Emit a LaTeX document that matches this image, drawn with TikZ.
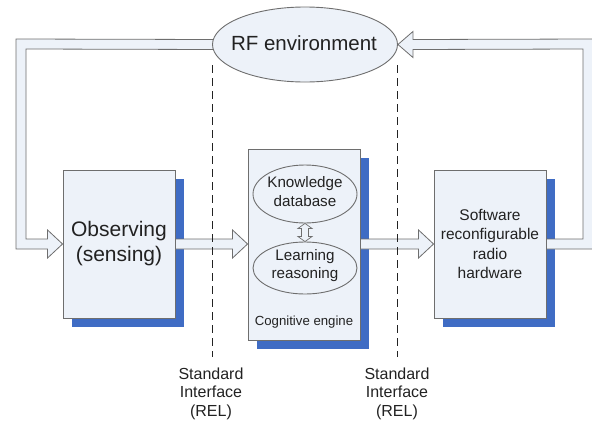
\documentclass[tikz,border=0pt]{standalone}
\usepackage{fontspec}
\setmainfont{Liberation Sans}
\usetikzlibrary{calc,backgrounds,shapes.geometric}
\definecolor{boxfill}{HTML}{EDF2F9}
\definecolor{shadowblue}{HTML}{3F6CC4}
\definecolor{edge}{HTML}{6E6E6E}
\definecolor{ink}{HTML}{222222}

\begin{document}
\begin{tikzpicture}[x=1pt,y=-1pt,
  block/.style={draw=edge, line width=0.9pt, fill=boxfill, minimum width=112pt,
    inner sep=0pt, text=ink, align=center},
  oval/.style={ellipse, draw=edge, line width=0.9pt, fill=boxfill, inner sep=0pt},
  label/.style={text=ink, align=center, inner sep=0pt},
  hollow/.style={draw=edge, line width=0.8pt, fill=boxfill, line join=miter},
  guide/.style={draw=ink, line width=0.8pt, dash pattern=on 8pt off 5pt},
  caption/.style={text=ink, align=center, inner sep=0pt,
    font=\fontsize{16}{18.5}\selectfont},
  shade/.style={fill=shadowblue}
]
\useasboundingbox (0,0) rectangle (592,426);
\clip (0,0) rectangle (592,426);

% main blocks
\node[block, minimum height=148pt, font=\fontsize{21}{25}\selectfont] (obs) at (119,244)
  {Observing\\(sensing)};
\node[block, minimum height=191pt] (cog) at (304,244.5) {};
\node[block, minimum height=148pt, font=\fontsize{15.5}{19.3}\selectfont] (sw) at (490,244)
  {Software\\reconfigurable\\radio\\hardware};

% cognitive engine contents
\node[oval, minimum width=104pt, minimum height=58pt] (kd) at (305,194) {};
\node[label, font=\fontsize{15.2}{18.5}\selectfont] (kdt) at (305,191.5) {Knowledge\\database};
\node[oval, minimum width=104pt, minimum height=52pt] (lr) at (305,268) {};
\node[label, font=\fontsize{15.2}{18.5}\selectfont] (lrt) at (305,265.5) {Learning\\reasoning};
\node[label, anchor=base, font=\fontsize{13.2}{15}\selectfont]
  (ce) at (304,325) {Cognitive engine};

% radio environment
\node[oval, minimum width=185pt, minimum height=75pt] (rf) at (305,44.5) {};
\node[label, anchor=base, font=\fontsize{20.5}{24}\selectfont] (rft) at (304,50.5) {RF environment};

% bends of the feedback loops
\coordinate (L) at (21,44);
\coordinate (R) at (588,44);

\begin{pgfonlayer}{background}
  % drop shadows
  \foreach \b in {obs,cog,sw}
    \fill[shade] ($(\b.south west)+(9,9)$) rectangle ($(\b.north east)+(9,9)$);
  % environment -> observing
  \draw[hollow] ($(rf.west)+(4,-5)$) -- ($(L)+(-5,-5)$) -- ($(L|-obs.west)+(-5,5)$)
    -- ($(obs.west)+(-15,5)$) -- ($(obs.west)+(-15,14)$) -- (obs.west)
    -- ($(obs.west)+(-15,-14)$) -- ($(obs.west)+(-15,-5)$)
    -- ($(L|-obs.west)+(5,-5)$) -- ($(L)+(5,5)$) -- ($(rf.west)+(4,5)$) -- cycle;
  % hardware -> environment
  \draw[hollow] ($(sw.east)+(-2,-5)$) -- ($(R|-sw.east)+(-5,-5)$) -- ($(R)+(-5,5)$)
    -- ($(rf.east)+(15,5)$) -- ($(rf.east)+(15,13)$) -- (rf.east)
    -- ($(rf.east)+(15,-13)$) -- ($(rf.east)+(15,-5)$)
    -- ($(R)+(5,-5)$) -- ($(R|-sw.east)+(5,5)$) -- ($(sw.east)+(-2,5)$) -- cycle;
\end{pgfonlayer}

% observing -> cognitive engine
\draw[hollow] ($(obs.east)+(0,-5)$) -- ($(cog.west|-obs.east)+(-15,-5)$)
  -- ($(cog.west|-obs.east)+(-15,-14)$) -- (cog.west|-obs.east)
  -- ($(cog.west|-obs.east)+(-15,14)$) -- ($(cog.west|-obs.east)+(-15,5)$)
  -- ($(obs.east)+(0,5)$) -- cycle;
% cognitive engine -> hardware
\draw[hollow] ($(cog.east|-sw.west)+(0,-5)$) -- ($(sw.west)+(-15,-5)$)
  -- ($(sw.west)+(-15,-14)$) -- (sw.west)
  -- ($(sw.west)+(-15,14)$) -- ($(sw.west)+(-15,5)$)
  -- ($(cog.east|-sw.west)+(0,5)$) -- cycle;

% knowledge <-> reasoning
\draw[hollow, line width=0.7pt] (kd.south) -- ++(7,5) -- ++(-3.5,0) -- ($(lr.north)+(3.5,-5)$)
  -- ++(3.5,0) -- (lr.north) -- ++(-7,-5) -- ++(3.5,0) -- ($(kd.south)+(-3.5,5)$)
  -- ++(-3.5,0) -- cycle;

% standard interfaces
\coordinate (d1top) at (212,65);
\coordinate (d1bot) at (212,357);
\coordinate (d2top) at (397.5,65);
\coordinate (d2bot) at (397.5,357);
\draw[guide] (d1top) -- (d1bot);
\draw[guide] (d2top) -- (d2bot);
\node[caption, anchor=north] (si1) at (211,367.5) {Standard\\Interface\\(REL)};
\node[caption, anchor=north] (si2) at (397,367.5) {Standard\\Interface\\(REL)};
\end{tikzpicture}
\end{document}
